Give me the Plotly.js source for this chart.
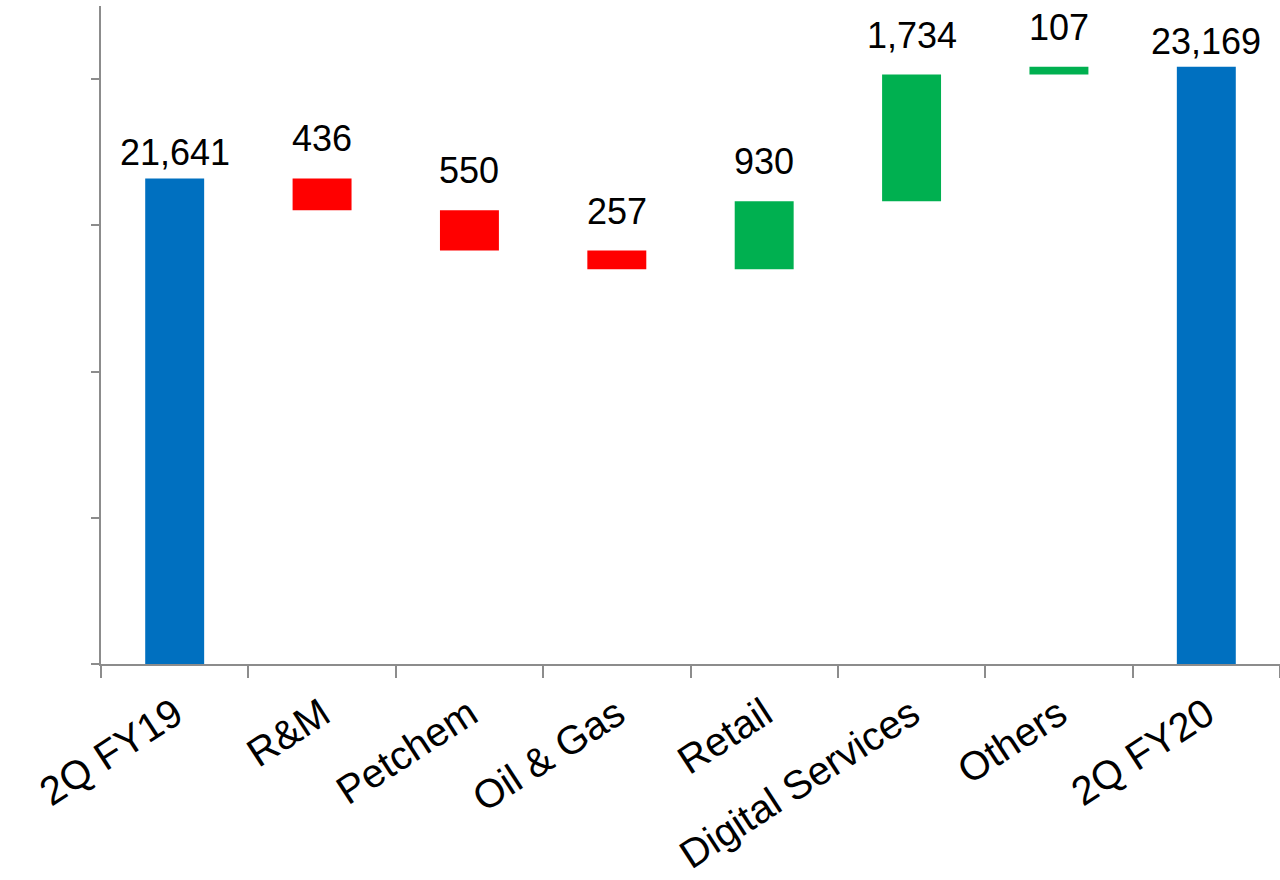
<!DOCTYPE html>
<html>
<head>
<meta charset="utf-8">
<script src="https://cdn.plot.ly/plotly-3.0.1.min.js"></script>
<style>
  html, body { margin: 0; padding: 0; background: #ffffff; }
  #chart { width: 1280px; height: 880px; }
</style>
</head>
<body>
<div id="chart"></div>
<script>
// Revenue bridge: 2Q FY19 -> 2Q FY20 by segment
const categories = ["2Q FY19", "R&M", "Petchem", "Oil & Gas", "Retail", "Digital Services", "Others", "2Q FY20"];
const measures   = ["absolute", "relative", "relative", "relative", "relative", "relative", "relative", "total"];
const values     = [21641, -436, -550, -257, 930, 1734, 107, 23169];

const BLUE = "#0070C0", RED = "#FF0000", GREEN = "#00B050";
const FONT = "Arial, 'Liberation Sans', sans-serif";
const AXIS_GREY = "#8c8c8c";

// Running totals give the top edge of each bar, where its label sits
let running = 0;
const tops = [];
measures.forEach((m, i) => {
  if (m === "absolute") { running = values[i]; tops.push(running); }
  else if (m === "total") { tops.push(running); }
  else {
    const prev = running;
    running += values[i];
    tops.push(Math.max(prev, running));
  }
});

const fmt = v => Math.abs(v).toLocaleString("en-US");

const trace = {
  type: "waterfall",
  x: categories,
  y: measures.map((m, i) => m === "total" ? 0 : values[i]),
  measure: measures,
  width: 0.4,
  connector: { visible: false },
  increasing: { marker: { color: GREEN } },
  decreasing: { marker: { color: RED } },
  totals: { marker: { color: BLUE } },
  textinfo: "none",
  hoverinfo: "x+y"
};

// Step labels float a little higher above their bars than the end totals
const annotations = categories.map((c, i) => ({
  x: c,
  y: tops[i],
  xref: "x",
  yref: "y",
  text: fmt(values[i]),
  showarrow: false,
  yanchor: "bottom",
  yshift: measures[i] === "relative" ? 17 : 3,
  font: { family: FONT, size: 36, color: "#000000" }
}));

const layout = {
  width: 1280,
  height: 880,
  margin: { l: 101, r: 0, t: 6, b: 216, pad: 0 },
  paper_bgcolor: "#ffffff",
  plot_bgcolor: "#ffffff",
  showlegend: false,
  xaxis: {
    type: "category",
    range: [-0.5, 7.5],
    tickson: "boundaries",
    ticks: "outside",
    ticklen: 12,
    tickwidth: 2,
    tickcolor: AXIS_GREY,
    showline: true,
    linecolor: AXIS_GREY,
    linewidth: 2,
    showgrid: false,
    zeroline: false,
    tickangle: -33,
    ticklabelstandoff: 9,
    tickfont: { family: FONT, size: 40, color: "#000000" }
  },
  yaxis: {
    range: [15000, 24000],
    tick0: 15000,
    dtick: 2000,
    ticks: "outside",
    ticklen: 8,
    tickwidth: 2,
    tickcolor: AXIS_GREY,
    showticklabels: false,
    showline: true,
    linecolor: AXIS_GREY,
    linewidth: 2,
    showgrid: false,
    zeroline: false
  },
  annotations: annotations
};

Plotly.newPlot("chart", [trace], layout, { displayModeBar: false, staticPlot: true });
</script>
</body>
</html>
